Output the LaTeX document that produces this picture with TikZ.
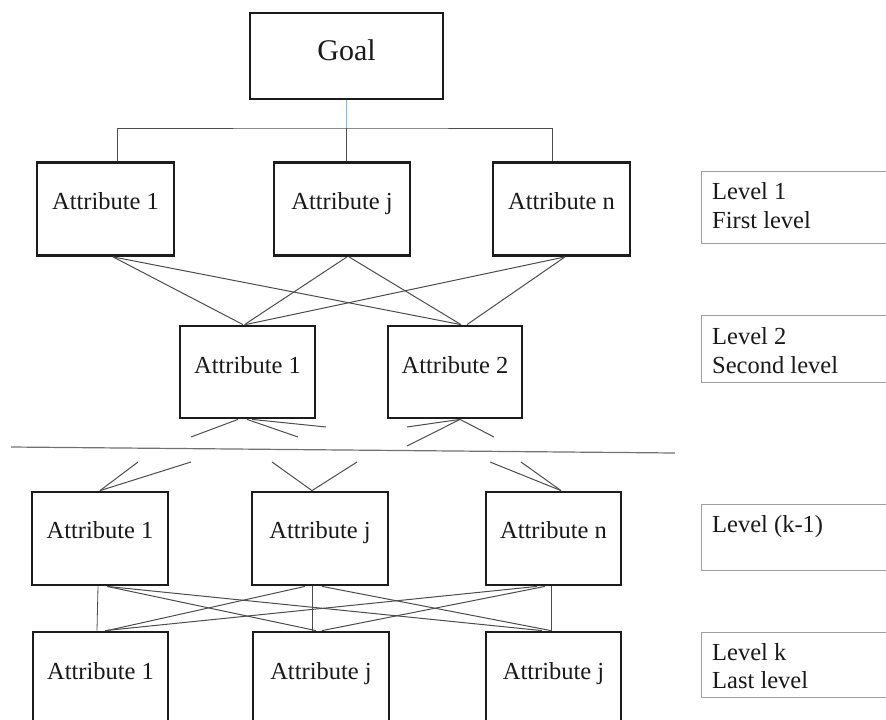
\documentclass[tikz,border=0pt]{standalone}
\usepackage{fontspec}
\setmainfont{Liberation Serif}
\newfontfamily\tnr{Liberation Serif}
\definecolor{boxc}{HTML}{1C1C1C}
\definecolor{linec}{HTML}{4D4D4D}
\definecolor{lvlc}{HTML}{A0A0A0}
\definecolor{bluec}{HTML}{8FB4DC}
\begin{document}
\begin{tikzpicture}[x=1pt,y=-1pt,
  attr/.style={draw=boxc,line width=2.8pt,rectangle,minimum width=136,minimum height=93,inner sep=0pt},
  txt/.style={font=\tnr\fontsize{24.5}{29}\selectfont,text=black!90,inner sep=0pt,anchor=base},
  conn/.style={draw=linec,line width=1pt},
  lvlbox/.style={draw=lvlc,line width=1.2pt,rectangle,anchor=north west,minimum width=190,inner sep=0pt}]
\useasboundingbox (0,0) rectangle (886,720);
% goal
\node[attr,minimum width=193,minimum height=86] (goal) at (346.5,56) {};
\node[txt,font=\tnr\fontsize{30}{34}\selectfont] (goalt) at ([yshift=-4pt]goal.center) {Goal};
% level 1
\node[attr,minimum width=137] (l1a) at (105.5,209) {};
\node[attr] (l1j) at (342,209) {};
\node[attr,minimum width=137] (l1n) at (561.5,209) {};
\node[txt] (l1at) at (l1a.center) {Attribute 1};
\node[txt] (l1jt) at (l1j.center) {Attribute j};
\node[txt] (l1nt) at (l1n.center) {Attribute n};
% level 2
\node[attr,minimum width=135,minimum height=92] (l2a) at (247.5,372) {};
\node[attr,minimum width=134,minimum height=92] (l2b) at (455,372) {};
\node[txt] (l2at) at ([yshift=-1pt]l2a.center) {Attribute 1};
\node[txt] (l2bt) at ([yshift=-1pt]l2b.center) {Attribute 2};
% level k-1
\node[attr] (kma) at (100,538.5) {};
\node[attr] (kmj) at (320,538.5) {};
\node[attr,minimum width=135] (kmn) at (553.5,538.5) {};
\node[txt] (kmat) at (kma.center) {Attribute 1};
\node[txt] (kmjt) at (kmj.center) {Attribute j};
\node[txt] (kmnt) at (kmn.center) {Attribute n};
% level k
\node[attr,minimum width=135,minimum height=94] (ka) at (100.5,679) {};
\node[attr,minimum height=94] (kj) at (321,679) {};
\node[attr,minimum width=135,minimum height=94] (kn) at (553.5,679) {};
\node[txt] (kat) at (ka.center) {Attribute 1};
\node[txt] (kjt) at (kj.center) {Attribute j};
\node[txt] (knt) at (kn.center) {Attribute j};
% level labels
\node[lvlbox,minimum height=72] (lv1) at (701,171) {};
\node[lvlbox,minimum height=67] (lv2) at (701,315) {};
\node[lvlbox,minimum height=66] (lv3) at (701,504) {};
\node[lvlbox,minimum height=65] (lv4) at (701,632) {};
\node[txt,anchor=base west] (lv1a) at (712,199) {Level 1};
\node[txt,anchor=base west] (lv1b) at (712,228) {First level};
\node[txt,anchor=base west] (lv2a) at (712,344) {Level 2};
\node[txt,anchor=base west] (lv2b) at (712,373) {Second level};
\node[txt,anchor=base west] (lv3a) at (712,532) {Level (k-1)};
\node[txt,anchor=base west] (lv4a) at (712,660) {Level k};
\node[txt,anchor=base west] (lv4b) at (712,688) {Last level};
% goal connectors
\coordinate (bus) at (346.5,128);
\draw[draw=bluec,line width=1pt] (goal.south) -- (bus);
\draw[conn] ([xshift=11.5pt]l1a.north) |- (bus) -| ([xshift=-9.5pt]l1n.north);
\draw[conn] (bus) -- ([xshift=4.5pt]l1j.north);
% level 1 -> level 2
\draw[conn] ([xshift=7.5pt]l1a.south) -- ([xshift=-4.5pt]l2a.north);
\draw[conn] ([xshift=7.5pt]l1a.south) -- ([xshift=6pt]l2b.north);
\draw[conn] ([xshift=5pt]l1j.south) -- ([xshift=-3pt]l2a.north);
\draw[conn] ([xshift=7pt]l1j.south) -- ([xshift=6pt]l2b.north);
\draw[conn] ([xshift=3.5pt]l1n.south) -- ([xshift=-2pt]l2a.north);
\draw[conn] ([xshift=3.5pt]l1n.south) -- ([xshift=12pt]l2b.north);
% stubs below level 2
\coordinate (s1) at (191,437); \coordinate (s2) at (298,437); \coordinate (s3) at (326,427);
\coordinate (s4) at (407,427); \coordinate (s5) at (407,446); \coordinate (s6) at (494,437);
\draw[conn] ([xshift=-9.5pt]l2a.south) -- (s1);
\draw[conn] ([xshift=-0.5pt]l2a.south) -- (s2);
\draw[conn] ([xshift=4.5pt]l2a.south) -- (s3);
\draw[conn] ([xshift=5pt]l2b.south) -- (s4);
\draw[conn] ([xshift=5pt]l2b.south) -- (s5);
\draw[conn] ([xshift=5pt]l2b.south) -- (s6);
% divider
\coordinate (d1) at (11,447); \coordinate (d2) at (675,453);
\draw[draw=linec!80,line width=1.2pt] (d1) -- (d2);
% stubs above level k-1
\coordinate (t1) at (138,462); \coordinate (t2) at (191,462);
\coordinate (t3) at (272,462); \coordinate (t4) at (357,462);
\coordinate (t5) at (490,462); \coordinate (t6) at (521,462);
\draw[conn] (kma.north) -- (t1);
\draw[conn] (kma.north) -- (t2);
\draw[conn] ([xshift=-8pt]kmj.north) -- (t3);
\draw[conn] ([xshift=-8pt]kmj.north) -- (t4);
\draw[conn] ([xshift=7.5pt]kmn.north) -- (t5);
\draw[conn] ([xshift=7.5pt]kmn.north) -- (t6);
% level k-1 -> level k
\draw[conn,line width=0.8pt] ([xshift=-2pt]kma.south) -- ([xshift=-3.5pt]ka.north);
\draw[conn,line width=0.8pt] ([xshift=-8pt]kmj.south) -- ([xshift=-9pt]kj.north);
\draw[conn,line width=0.8pt] ([xshift=-2.5pt]kmn.south) -- ([xshift=-2.5pt]kn.north);
\draw[conn] ([xshift=7pt]kma.south) -- ([xshift=-5pt]kj.north);
\draw[conn] ([xshift=7pt]kma.south) -- ([xshift=-11.5pt]kn.north);
\draw[conn] ([xshift=-15pt]kmj.south) -- ([xshift=6.5pt]ka.north);
\draw[conn] ([xshift=2pt]kmj.south) -- ([xshift=-2.5pt]kn.north);
\draw[conn] ([xshift=-16.5pt]kmn.south) -- ([xshift=4.5pt]ka.north);
\draw[conn] ([xshift=-8.5pt]kmn.south) -- ([xshift=1pt]kj.north);
\end{tikzpicture}
\end{document}
